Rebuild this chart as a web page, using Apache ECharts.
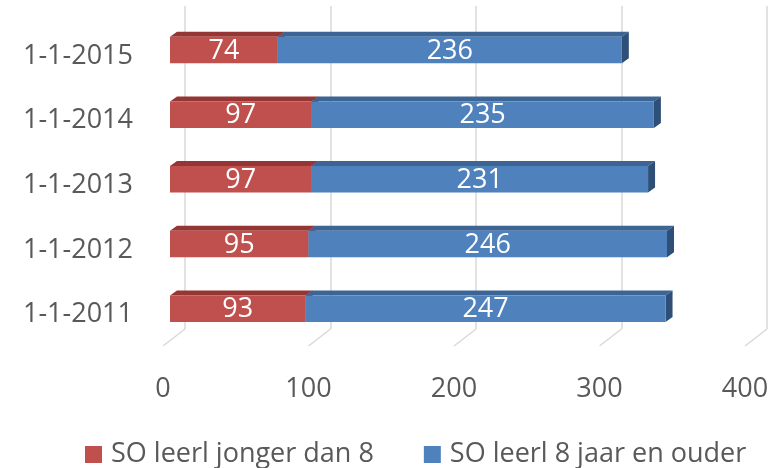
<!DOCTYPE html>
<html>
<head>
<meta charset="utf-8">
<script src="https://cdn.jsdelivr.net/npm/echarts@6/dist/echarts.min.js"></script>
<style>html,body{margin:0;padding:0;background:#fff}#c{width:777px;height:468px}</style>
</head>
<body>
<div id="c"></div>
<script>
const categories = ['1-1-2011', '1-1-2012', '1-1-2013', '1-1-2014', '1-1-2015'];
const youngValues = [93, 95, 97, 97, 74];
const olderValues = [247, 246, 231, 235, 236];
const seriesNames = ['SO leerl jonger dan 8', 'SO leerl 8 jaar en ouder'];
const xTicks = [0, 100, 200, 300, 400];

const FONT = 'Open Sans';
const TXT = '#595959';
const DX = 7, DY = 5;

const colors = [
  { front: '#C0504D', top: '#963634', side: '#7F2D2B' },
  { front: '#4F81BD', top: '#3C6494', side: '#2E4F78' }
];

function barRenderer(col) {
  return function (params, api) {
    const ci = api.value(0);
    const p0 = api.coord([api.value(1), ci]);
    const p1 = api.coord([api.value(2), ci]);
    const h = api.size([0, 1])[1] * 0.41;
    const x0 = p0[0], x1 = p1[0];
    const top = p0[1] - h / 2, bot = top + h;
    return {
      type: 'group',
      children: [
        { type: 'polygon', shape: { points: [[x0, top], [x0 + DX, top - DY], [x1 + DX, top - DY], [x1, top]] }, style: { fill: col.top } },
        { type: 'polygon', shape: { points: [[x1, top], [x1 + DX, top - DY], [x1 + DX, bot - DY], [x1, bot]] }, style: { fill: col.side } },
        { type: 'rect', shape: { x: x0, y: top, width: x1 - x0, height: h }, style: { fill: col.front } },
        { type: 'text', style: { text: String(api.value(3)), x: (x0 + x1) / 2, y: (top + bot) / 2 + 1, align: 'center', verticalAlign: 'middle', fill: '#fff', font: '27px "' + FONT + '"' } }
      ]
    };
  };
}

const youngData = categories.map((c, i) => [i, 0, youngValues[i], youngValues[i]]);
const olderData = categories.map((c, i) => [i, youngValues[i], youngValues[i] + olderValues[i], olderValues[i]]);

const chart = echarts.init(document.getElementById('c'), null, { renderer: 'canvas' });
chart.setOption({
  animation: false,
  textStyle: { fontFamily: FONT },
  grid: [
    { left: 170, right: 24, top: 17.6, bottom: 468 - 341.1 },
    { left: 185, right: 10, top: 6, bottom: 468 - 329 },
    { left: 163, right: 32, top: 300, bottom: 468 - 346 },
    { left: 170, right: 24, top: 17.6 + 6, bottom: 468 - 341.1 - 6 }
  ],
  xAxis: [
    { gridIndex: 0, type: 'value', min: 0, max: 400, interval: 100, axisLine: { show: false }, axisTick: { show: false }, axisLabel: { show: false }, splitLine: { show: false } },
    { gridIndex: 1, type: 'value', min: 0, max: 400, interval: 100, axisLine: { show: false }, axisTick: { show: false }, axisLabel: { show: false }, splitLine: { show: true, lineStyle: { color: '#D9D9D9', width: 1.5 } } },
    { gridIndex: 2, type: 'value', min: 0, max: 400, interval: 100, axisLine: { show: false }, axisTick: { show: false }, splitLine: { show: false },
      axisLabel: { show: true, margin: 30, color: TXT, fontSize: 27, fontFamily: FONT, formatter: v => xTicks.indexOf(v) >= 0 ? String(v) : '' } },
    { gridIndex: 3, type: 'value', min: 0, max: 400, show: false, splitLine: { show: false } }
  ],
  yAxis: [
    { gridIndex: 0, type: 'category', data: categories, axisLine: { show: false }, axisTick: { show: false }, splitLine: { show: false }, axisLabel: { show: false } },
    { gridIndex: 1, type: 'value', min: 0, max: 1, show: false, splitLine: { show: false } },
    { gridIndex: 2, type: 'value', min: 0, max: 1, show: false, splitLine: { show: false } },
    { gridIndex: 3, type: 'category', data: categories, axisLine: { show: false }, axisTick: { show: false }, splitLine: { show: false },
      axisLabel: { margin: 37, color: TXT, fontSize: 27, fontFamily: FONT } }
  ],
  legend: {
    bottom: -5, left: 80,
    itemWidth: 17, itemHeight: 17, itemGap: 50, icon: 'rect',
    textStyle: { color: TXT, fontSize: 27, fontFamily: FONT, padding: [0, 0, 0, 4] },
    data: seriesNames
  },
  series: [
    {
      type: 'custom', name: 'floor', xAxisIndex: 1, yAxisIndex: 1, z: 1, silent: true,
      data: xTicks.map(v => [v, 0]),
      renderItem: function (params, api) {
        const p = api.coord([api.value(0), 0]);
        return { type: 'line', shape: { x1: p[0], y1: p[1], x2: p[0] - 22, y2: p[1] + 17 }, style: { stroke: '#D9D9D9', lineWidth: 1.5 } };
      }
    },
    { type: 'custom', name: seriesNames[0], xAxisIndex: 0, yAxisIndex: 0, z: 3, itemStyle: { color: colors[0].front },
      encode: { x: [1, 2], y: 0 }, data: youngData, renderItem: barRenderer(colors[0]) },
    { type: 'custom', name: seriesNames[1], xAxisIndex: 0, yAxisIndex: 0, z: 4, itemStyle: { color: colors[1].front },
      encode: { x: [1, 2], y: 0 }, data: olderData, renderItem: barRenderer(colors[1]) }
  ]
});
</script>
</body>
</html>
